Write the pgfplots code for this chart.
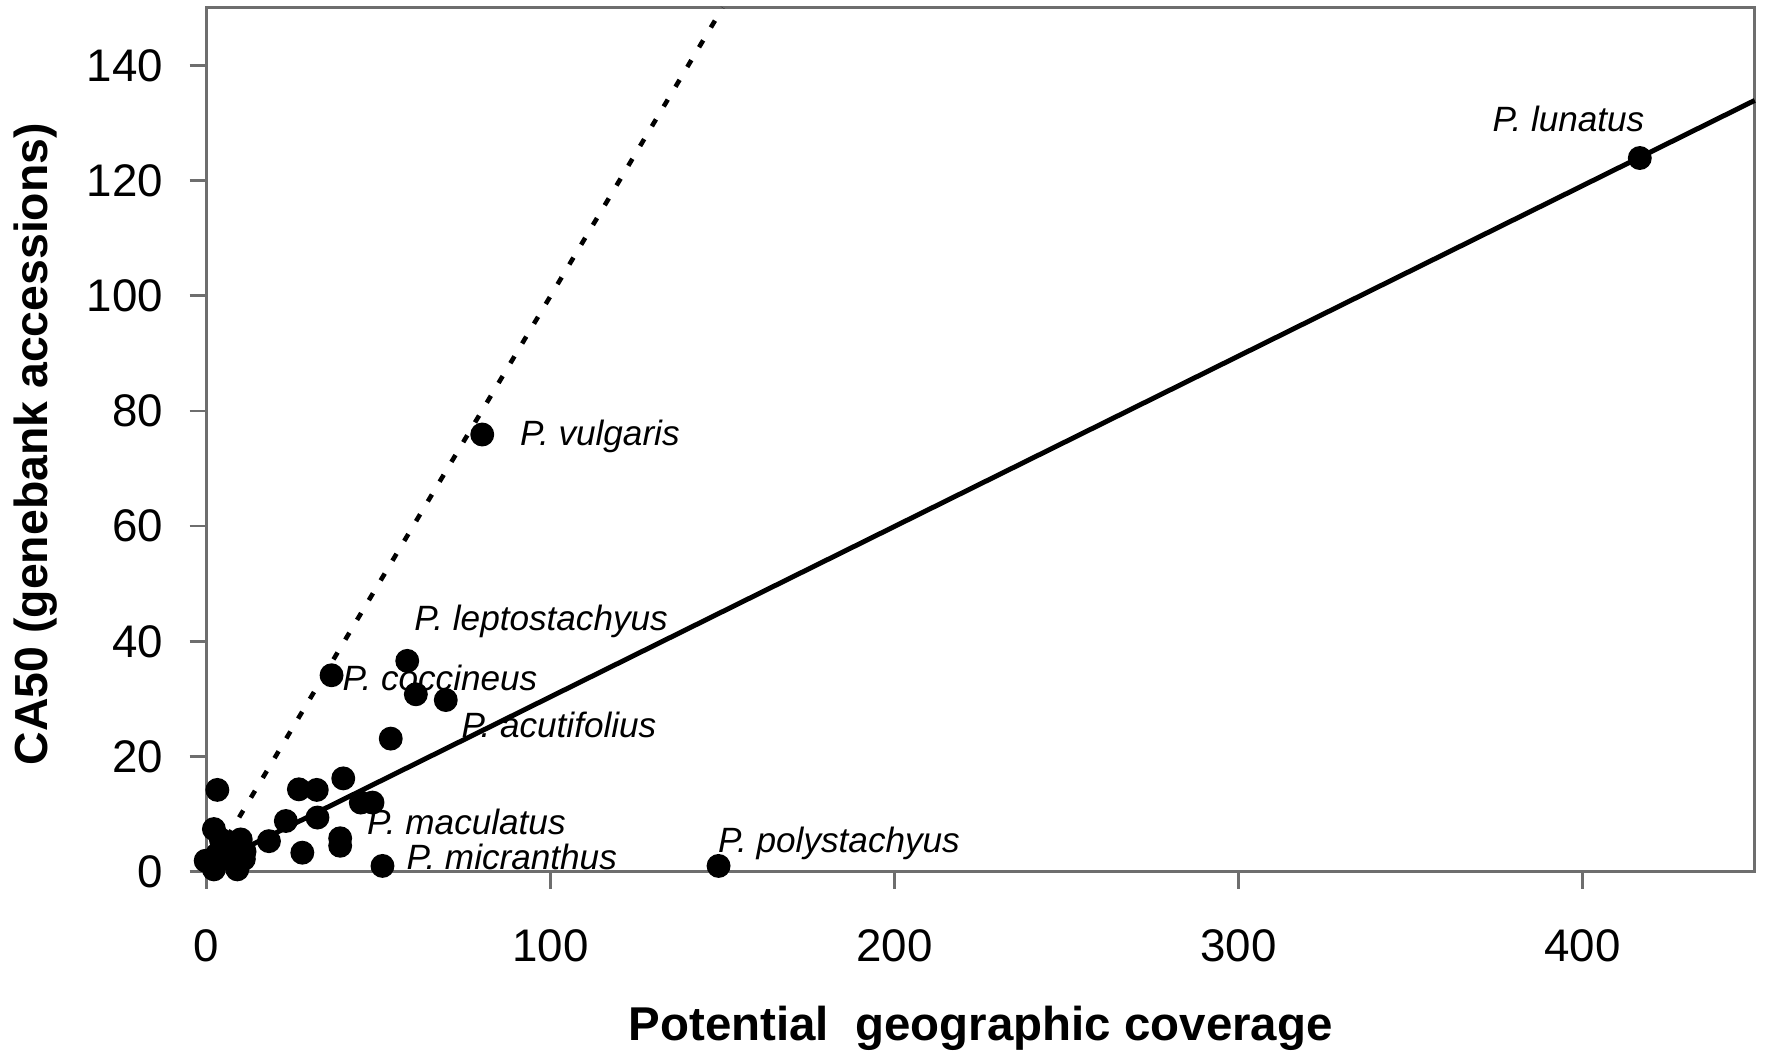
\documentclass[border=0pt]{standalone}
\usepackage{pgfplots}
\pgfplotsset{compat=1.18}
\usepackage{fontspec}
\setmainfont{Liberation Sans}
\definecolor{axgray}{RGB}{110,110,110}
\begin{document}
\begin{tikzpicture}
\begin{axis}[
  scale only axis,
  width=154.8mm, height=86.4mm,
  xmin=0, xmax=450, ymin=0, ymax=150,
  xtick={0,100,200,300,400},
  ytick={0,20,40,60,80,100,120,140},
  axis line style={axgray, line width=0.7pt},
  tick style={axgray, line width=0.7pt},
  tick align=outside,
  major tick length=1.7mm,
  xtick pos=bottom, ytick pos=left,
  /pgf/number format/assume math mode=true,
  ticklabel style={font=\fontsize{13}{15}\selectfont, inner sep=0pt},
  xticklabel shift=4.0mm,
  yticklabel shift=2.6mm,
  clip=false,
  xlabel={Potential\ \ geographic coverage},
  ylabel={CA50 (genebank accessions)},
  xlabel style={font=\bfseries\fontsize{13.5}{15}\selectfont, at={(axis description cs:0.5,0)}, anchor=base, yshift=-16.9mm, inner sep=0pt},
  ylabel style={font=\bfseries\fontsize{13.2}{15}\selectfont, at={(axis description cs:0,0.495)}, anchor=center, yshift=17.1mm, inner sep=0pt},
]
\addplot[black, line width=1.3pt, dash pattern=on 0.8mm off 1.5mm] coordinates {(6,6) (150,150)};
\addplot[black, line width=1.4pt] coordinates {(12,4.35) (450,133.9)};
\addplot[only marks, mark=*, mark size=3.2pt, black] coordinates {
(416.6,123.9) (80.1,75.9) (148.8,1.0) (58.3,36.6) (36.3,34.1) (60.8,30.8)
(69.5,29.8) (53.5,23.1) (39.7,16.2) (26.8,14.3) (32.0,14.2) (3.1,14.2)
(44.8,12.0) (48.2,12.0) (32.2,9.4) (23.0,8.8) (2.1,7.4) (18.1,5.3)
(38.8,4.5) (38.8,5.8) (27.8,3.3) (51.1,1.0) (9.9,5.6) (10.8,2.2)
(8.9,0.4) (-0.3,1.9) (2.1,0.4) (4.1,5.6) (3,3) (6,2.5) (2,1.5) (9,4) (11,3.5)
};
\begin{scope}[every node/.style={anchor=west, inner sep=0pt, font=\itshape\fontsize{10}{12}\selectfont}]
\node at (axis cs:373.6,130.6) {P. lunatus};
\node at (axis cs:90.9,75.5) {P. vulgaris};
\node at (axis cs:60.2,43.4) {P. leptostachyus};
\node at (axis cs:39.3,33.6) {P. coccineus};
\node at (axis cs:73.9,25.4) {P. acutifolius};
\node at (axis cs:46.4,8.6) {P. maculatus};
\node at (axis cs:57.9,2.5) {P. micranthus};
\node at (axis cs:148.5,4.9) {P. polystachyus};
\end{scope}
\end{axis}
\pgfresetboundingbox
\path (-20.67mm,-18.03mm) rectangle (155.83mm,87.17mm);
\end{tikzpicture}
\end{document}
